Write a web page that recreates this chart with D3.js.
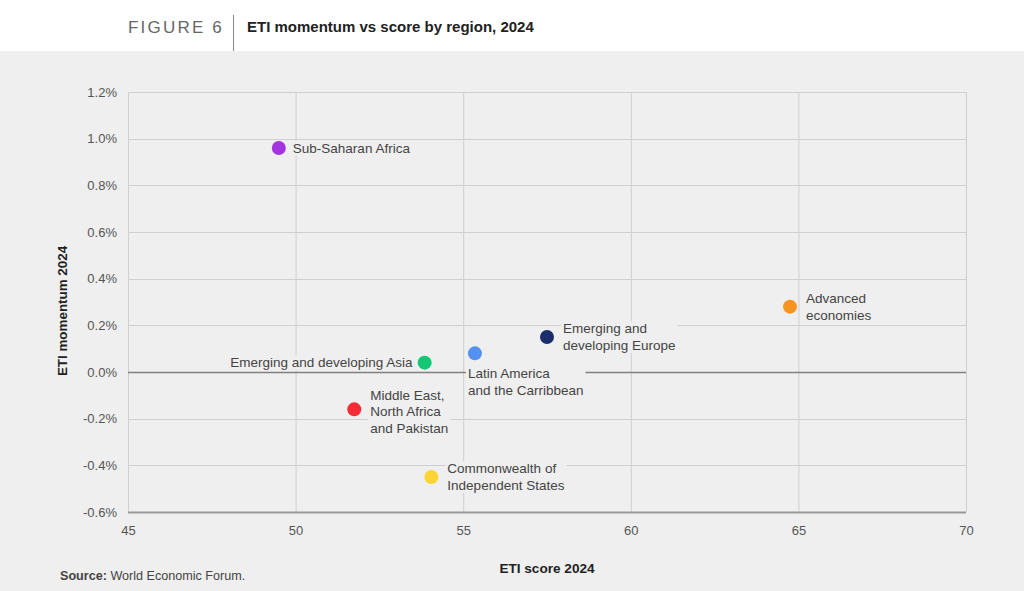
<!DOCTYPE html>
<html><head><meta charset="utf-8">
<script src="https://cdn.jsdelivr.net/npm/d3@7"></script>
<style>
html,body{margin:0;padding:0;background:#fff;}
svg{display:block;font-family:"Liberation Sans",Arial,Helvetica,sans-serif;}
</style></head>
<body>
<script>
const regions = ["Sub-Saharan Africa","Advanced economies","Emerging and developing Europe","Latin America and the Carribbean","Emerging and developing Asia","Middle East, North Africa and Pakistan","Commonwealth of Independent States"];
const labelLines = [["Sub-Saharan Africa"],["Advanced","economies"],["Emerging and","developing Europe"],["Latin America","and the Carribbean"],["Emerging and developing Asia"],["Middle East,","North Africa","and Pakistan"],["Commonwealth of","Independent States"]];
const labelSide = ["right","right","right","below","left","right","right"];
const scores = [49.5, 64.75, 57.5, 55.35, 53.85, 51.75, 54.05];
const momentum = [0.96, 0.28, 0.15, 0.08, 0.04, -0.16, -0.45];
const colors = ["#a434e0","#f7941d","#1b2d6b","#5591f0","#14c774","#f52b36","#fcd434"];
const xTicks = [45,50,55,60,65,70];
const yTicks = [-0.6,-0.4,-0.2,0.0,0.2,0.4,0.6,0.8,1.0,1.2];

const W=1024,H=591;
const svg=d3.select("body").append("svg").attr("width",W).attr("height",H);
svg.append("rect").attr("x",0).attr("y",51).attr("width",W).attr("height",H-51).attr("fill","#efefef");

// header
svg.append("text").attr("x",128).attr("y",33).attr("font-size",17).attr("fill","#666").attr("letter-spacing","2.2px").text("FIGURE 6");
svg.append("line").attr("x1",233.5).attr("x2",233.5).attr("y1",15).attr("y2",51).attr("stroke","#888").attr("stroke-width",1);
svg.append("text").attr("x",247).attr("y",32).attr("font-size",15).attr("font-weight","bold").attr("fill","#222").text("ETI momentum vs score by region, 2024");

const x=d3.scaleLinear().domain([45,70]).range([128,966]);
const y=d3.scaleLinear().domain([-0.6,1.2]).range([512,92]);

const g=svg.append("g");
// grid
g.selectAll(".gx").data(xTicks).join("line").attr("x1",d=>x(d)+0.5).attr("x2",d=>x(d)+0.5).attr("y1",y(1.2)).attr("y2",y(-0.6)).attr("stroke","#cfcfcf").attr("stroke-width",1);
g.selectAll(".gy").data(yTicks).join("line").attr("x1",x(45)).attr("x2",x(70)).attr("y1",d=>Math.round(y(d))+0.5).attr("y2",d=>Math.round(y(d))+0.5)
 .attr("stroke",d=>d===0?"#808080":"#cfcfcf").attr("stroke-width",d=>d===0?1.4:1);
g.append("line").attr("x1",x(45)).attr("x2",x(70)).attr("y1",y(-0.6)+0.5).attr("y2",y(-0.6)+0.5).attr("stroke","#999").attr("stroke-width",2);

// axes via d3 axis
const xAxis=d3.axisBottom(x).tickValues(xTicks).tickSize(0).tickPadding(14).tickFormat(d3.format("d"));
const xa=svg.append("g").attr("transform",`translate(0,${y(-0.6)})`).call(xAxis);
xa.select(".domain").remove();
xa.selectAll("text").attr("font-size",13).attr("fill","#555").attr("font-family","Liberation Sans, Arial, sans-serif");
const yAxis=d3.axisLeft(y).tickValues(yTicks).tickSize(0).tickPadding(11).tickFormat(d=>d3.format(".1f")(d).replace("−","-")+"%");
const ya=svg.append("g").attr("transform",`translate(${x(45)},0)`).call(yAxis);
ya.select(".domain").remove();
ya.selectAll("text").attr("font-size",13).attr("fill","#555").attr("font-family","Liberation Sans, Arial, sans-serif");

// axis titles
svg.append("text").attr("transform",`translate(67,311) rotate(-90)`).attr("text-anchor","middle").attr("font-size",13.4).attr("font-weight","bold").attr("fill","#222").text("ETI momentum 2024");
svg.append("text").attr("x",547).attr("y",573).attr("text-anchor","middle").attr("font-size",13.6).attr("font-weight","bold").attr("fill","#222").text("ETI score 2024");
const src=svg.append("text").attr("x",60).attr("y",580).attr("font-size",12.6).attr("fill","#444");
src.append("tspan").attr("font-weight","bold").text("Source:");
src.append("tspan").text(" World Economic Forum.");

// points
const data=regions.map((r,i)=>({r,lines:labelLines[i],side:labelSide[i],s:scores[i],m:momentum[i],c:colors[i]}));
const lh=16.5, fs=13.5;
data.forEach((d,i)=>{
  const px=x(d.s), py=y(d.m);
  const lg=svg.append("g");
  let tx,ty,anchor;
  const n=d.lines.length;
  if(d.side==="right"){tx=px+(i===0?14:16);anchor="start";ty=py-(n-1)*lh/2+(n===3?2:0);}
  else if(d.side==="left"){tx=px-12;anchor="end";ty=py-(n-1)*lh/2;}
  else {tx=px-7;anchor="start";ty=py+20;}
  const t=lg.append("text").attr("font-size",fs).attr("fill","#444").attr("text-anchor",anchor);
  d.lines.forEach((l,k)=>t.append("tspan").attr("x",tx).attr("y",ty+k*lh).attr("dy","0.35em").text(l));
  const bb=t.node().getBBox();
  lg.insert("rect","text").attr("x",bb.x-2).attr("y",bb.y).attr("width",bb.width+4).attr("height",bb.height).attr("fill","#efefef");
  svg.append("circle").attr("cx",px).attr("cy",py).attr("r",7).attr("fill",d.c);
});
</script>
</body></html>
